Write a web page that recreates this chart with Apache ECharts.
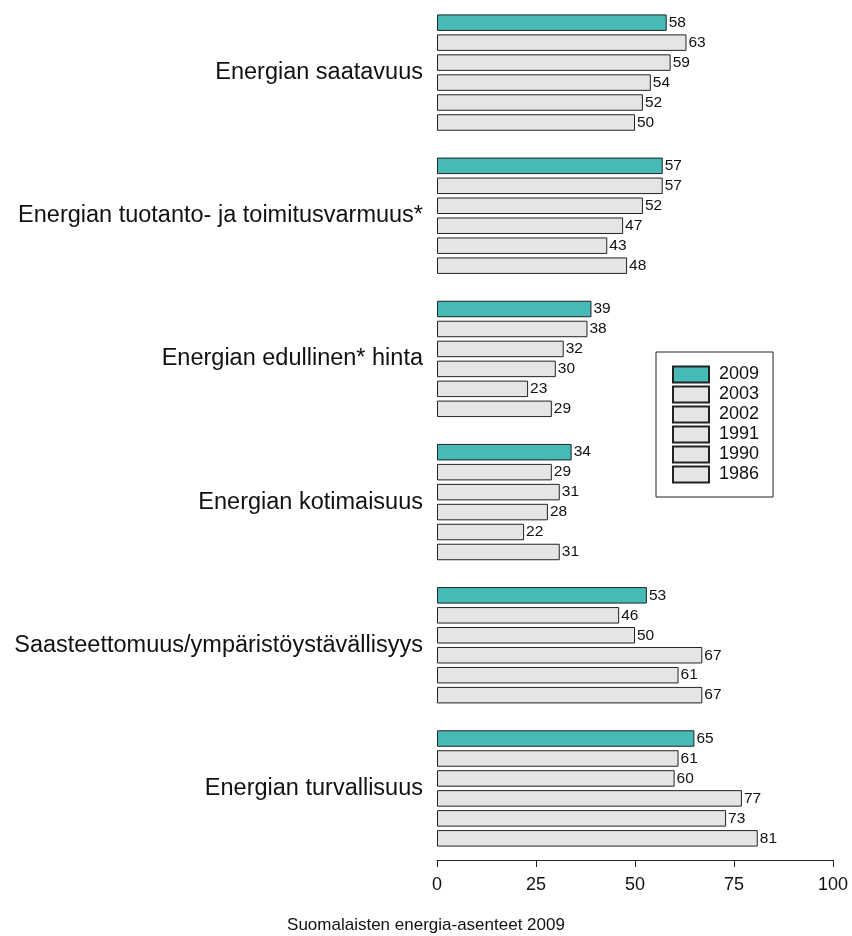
<!DOCTYPE html>
<html>
<head>
<meta charset="utf-8">
<script src="https://cdn.jsdelivr.net/npm/echarts@6/dist/echarts.min.js"></script>
<style>
  html, body { margin: 0; padding: 0; background: #fff; }
  #chart { width: 852px; height: 936px; }
</style>
</head>
<body>
<div id="chart"></div>
<script>
var categories = [
  "Energian saatavuus",
  "Energian tuotanto- ja toimitusvarmuus*",
  "Energian edullinen* hinta",
  "Energian kotimaisuus",
  "Saasteettomuus/ympäristöystävällisyys",
  "Energian turvallisuus"
];
var years = ["2009", "2003", "2002", "1991", "1990", "1986"];
var v2009 = [58, 57, 39, 34, 53, 65];
var v2003 = [63, 57, 38, 29, 46, 61];
var v2002 = [59, 52, 32, 31, 50, 60];
var v1991 = [54, 47, 30, 28, 67, 77];
var v1990 = [52, 43, 23, 22, 61, 73];
var v1986 = [50, 48, 29, 31, 67, 81];
var xTicks = [0, 25, 50, 75, 100];

var values = [v2009, v2003, v2002, v1991, v1990, v1986];
var font = "Liberation Sans, Arial, sans-serif";

var chart = echarts.init(document.getElementById("chart"));

var series = years.map(function (y, i) {
  return {
    name: y,
    type: "bar",
    data: values[i],
    barWidth: 16.5,
    barGap: "21%",
    itemStyle: {
      color: i === 0 ? "#45bab6" : "#e5e5e5",
      borderColor: "#222",
      borderWidth: 1
    },
    label: {
      show: true,
      position: "right",
      distance: 2,
      color: "#111",
      fontSize: 15.5,
      fontFamily: font
    }
  };
});

chart.setOption({
  animation: false,
  backgroundColor: "#fff",
  title: {
    text: "Suomalaisten energia-asenteet 2009",
    left: "center",
    top: 912,
    textStyle: { fontSize: 17, fontWeight: "normal", color: "#111", fontFamily: font }
  },
  legend: {
    data: years,
    orient: "vertical",
    left: 656,
    top: 352,
    padding: [13.5, 14, 13.5, 16],
    icon: "rect",
    itemWidth: 36,
    itemHeight: 16,
    itemGap: 2,
    borderColor: "#222",
    borderWidth: 1,
    textStyle: { fontSize: 18, lineHeight: 16, color: "#111", fontFamily: font, padding: [0, 0, 0, 5] }
  },
  grid: { left: 437, right: 19, top: 1, height: 859, containLabel: false },
  xAxis: {
    type: "value",
    min: 0,
    max: 100,
    interval: 25,
    axisLine: { show: true, lineStyle: { color: "#222" } },
    axisTick: { show: true, length: 7, lineStyle: { color: "#222" } },
    axisLabel: {
      fontSize: 18, color: "#111", fontFamily: font, margin: 16,
      formatter: function (v) { return xTicks.indexOf(v) >= 0 ? String(v) : ""; }
    },
    splitLine: { show: false }
  },
  yAxis: {
    type: "category",
    data: categories,
    inverse: true,
    axisLine: { show: false },
    axisTick: { show: false },
    axisLabel: { fontSize: 23.5, color: "#111", fontFamily: font, margin: 14 }
  },
  series: series
});
</script>
</body>
</html>
